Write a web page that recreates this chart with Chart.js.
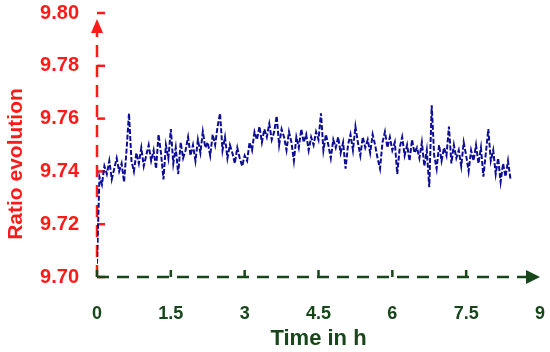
<!DOCTYPE html>
<html>
<head>
<meta charset="utf-8">
<script src="https://cdn.jsdelivr.net/npm/chart.js@4"></script>
<style>
  body { margin: 0; background: #fff; }
</style>
</head>
<body>
<canvas id="chart" width="550" height="352"></canvas>
<script>
// sampling interval of the recording, hours
const step = 0.05;

// ratio readings, one every 0.05 h from 0 to 8.4 h
const ratio = [
    9.705, 9.738, 9.735, 9.742, 9.739, 9.744, 9.737, 9.741, 9.745, 9.740,
    9.743, 9.736, 9.748, 9.762, 9.744, 9.740, 9.747, 9.743, 9.749, 9.742,
    9.746, 9.750, 9.744, 9.748, 9.741, 9.754, 9.747, 9.737, 9.750, 9.745,
    9.756, 9.743, 9.749, 9.739, 9.751, 9.745, 9.748, 9.753, 9.746, 9.750,
    9.744, 9.752, 9.747, 9.755, 9.749, 9.751, 9.746, 9.754, 9.750, 9.757,
    9.762, 9.748, 9.753, 9.745, 9.750, 9.747, 9.743, 9.749, 9.745, 9.742,
    9.746, 9.744, 9.751, 9.748, 9.755, 9.752, 9.757, 9.751, 9.756, 9.753,
    9.758, 9.752, 9.755, 9.761, 9.750, 9.756, 9.753, 9.748, 9.755, 9.751,
    9.744, 9.753, 9.749, 9.756, 9.751, 9.754, 9.748, 9.753, 9.750, 9.755,
    9.752, 9.762, 9.748, 9.754, 9.750, 9.745, 9.752, 9.749, 9.753, 9.747,
    9.751, 9.741, 9.750, 9.754, 9.748, 9.757, 9.751, 9.746, 9.753, 9.749,
    9.752, 9.747, 9.754, 9.750, 9.745, 9.741, 9.751, 9.755, 9.749, 9.753,
    9.748, 9.751, 9.739, 9.749, 9.753, 9.746, 9.750, 9.744, 9.752, 9.747,
    9.749, 9.745, 9.751, 9.742, 9.748, 9.734, 9.765, 9.746, 9.741, 9.750,
    9.744, 9.749, 9.746, 9.757, 9.743, 9.750, 9.745, 9.748, 9.742, 9.751,
    9.746, 9.740, 9.748, 9.744, 9.750, 9.743, 9.749, 9.738, 9.747, 9.756,
    9.744, 9.748, 9.739, 9.745, 9.736, 9.743, 9.738, 9.744, 9.737
];

const xTicks = [0, 1.5, 3, 4.5, 6, 7.5, 9];
const yTicks = [9.70, 9.72, 9.74, 9.76, 9.78, 9.80];

const RED = '#ff1a1a';
const GREEN = '#17461a';
const BLUE = '#0c0c96';

const points = ratio.map((v, i) => ({ x: +(i * step).toFixed(2), y: v }));

// dashed axes with arrow heads and inward ticks
const axisArrows = {
    id: 'axisArrows',
    beforeDatasetsDraw(chart) {
        const { ctx, scales: { x, y } } = chart;
        const x0 = x.getPixelForValue(0);
        const y0 = y.getPixelForValue(9.70);
        const yTop = y.getPixelForValue(9.80);
        const xEnd = x.getPixelForValue(9);

        ctx.save();
        ctx.lineWidth = 2.5;

        // y axis
        ctx.strokeStyle = RED;
        ctx.fillStyle = RED;
        ctx.setLineDash([12, 8]);
        ctx.beginPath();
        ctx.moveTo(x0, y0);
        ctx.lineTo(x0, yTop + 20);
        ctx.stroke();
        ctx.setLineDash([]);
        ctx.beginPath();
        ctx.moveTo(x0, yTop + 6);
        ctx.lineTo(x0 - 6, yTop + 20);
        ctx.lineTo(x0 + 6, yTop + 20);
        ctx.closePath();
        ctx.fill();
        yTicks.forEach(v => {
            const py = y.getPixelForValue(v);
            ctx.beginPath();
            ctx.moveTo(x0, py);
            ctx.lineTo(x0 + 8, py);
            ctx.stroke();
        });

        // x axis
        ctx.strokeStyle = GREEN;
        ctx.fillStyle = GREEN;
        ctx.setLineDash([12, 8]);
        ctx.beginPath();
        ctx.moveTo(x0, y0);
        ctx.lineTo(xEnd - 12, y0);
        ctx.stroke();
        ctx.setLineDash([]);
        ctx.beginPath();
        ctx.moveTo(xEnd, y0);
        ctx.lineTo(xEnd - 14, y0 - 7);
        ctx.lineTo(xEnd - 14, y0 + 7);
        ctx.closePath();
        ctx.fill();
        xTicks.slice(0, -1).forEach(v => {
            const px = x.getPixelForValue(v);
            ctx.beginPath();
            ctx.moveTo(px, y0);
            ctx.lineTo(px, y0 - 7);
            ctx.stroke();
        });

        // y title
        ctx.fillStyle = RED;
        ctx.font = 'bold 21px Arial, "Liberation Sans", sans-serif';
        ctx.textAlign = 'center';
        ctx.textBaseline = 'middle';
        ctx.translate(16, 164);
        ctx.rotate(-Math.PI / 2);
        ctx.fillText('Ratio evolution', 0, 0);
        ctx.restore();
    }
};

new Chart(document.getElementById('chart'), {
    type: 'line',
    data: {
        datasets: [{
            data: points,
            borderColor: BLUE,
            borderWidth: 2,
            borderDash: [5, 2],
            pointRadius: 0,
            tension: 0
        }]
    },
    options: {
        responsive: false,
        animation: false,
        layout: { padding: { top: 0, right: 10, left: 0, bottom: 0 } },
        plugins: { legend: { display: false }, tooltip: { enabled: false } },
        scales: {
            x: {
                type: 'linear',
                min: 0,
                max: 9,
                afterBuildTicks: s => { s.ticks = xTicks.map(v => ({ value: v })); },
                afterFit: s => { s.height = 75; s.paddingLeft = 0; s.paddingRight = 0; },
                grid: { display: false, drawTicks: false },
                border: { display: false },
                ticks: {
                    color: GREEN,
                    padding: 26,
                    font: { family: 'Arial, "Liberation Sans", sans-serif', size: 18, weight: 'bold' }
                },
                title: {
                    display: true,
                    text: 'Time in h',
                    color: GREEN,
                    padding: { top: 0, bottom: 0 },
                    font: { family: 'Arial, "Liberation Sans", sans-serif', size: 22, weight: 'bold' }
                }
            },
            y: {
                min: 9.70,
                max: 9.80,
                afterBuildTicks: s => { s.ticks = yTicks.map(v => ({ value: v })); },
                afterFit: s => { s.width = 97; s.paddingTop = 13; s.paddingBottom = 0; },
                grid: { display: false, drawTicks: false },
                border: { display: false },
                ticks: {
                    color: RED,
                    padding: 18,
                    callback: v => v.toFixed(2),
                    font: { family: 'Arial, "Liberation Sans", sans-serif', size: 20, weight: 'bold' }
                }
            }
        }
    },
    plugins: [axisArrows]
});
</script>
</body>
</html>
